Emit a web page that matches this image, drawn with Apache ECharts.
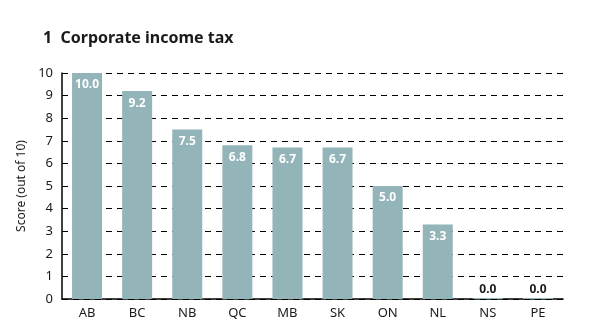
<!DOCTYPE html>
<html>
<head>
<meta charset="utf-8">
<script src="https://cdn.jsdelivr.net/npm/echarts@6/dist/echarts.min.js"></script>
<style>
html, body { margin: 0; padding: 0; background: #fff; }
#chart { width: 592px; height: 324px; }
</style>
</head>
<body>
<div id="chart"></div>
<script>
var provinces = ['AB', 'BC', 'NB', 'QC', 'MB', 'SK', 'ON', 'NL', 'NS', 'PE'];
var scores = [10.0, 9.2, 7.5, 6.8, 6.7, 6.7, 5.0, 3.3, 0.0, 0.0];
var yTicks = [0, 1, 2, 3, 4, 5, 6, 7, 8, 9, 10];

var barColor = '#93b4b8';
var font = '"Noto Sans", "Open Sans", sans-serif';

// zero bars get their label above the bar in dark text
var barData = scores.map(function (v) {
    if (v === 0) {
        return {
            value: v,
            label: { position: 'top', distance: 2, color: '#1a1a1a' }
        };
    }
    return v;
});

var chart = echarts.init(document.getElementById('chart'));
chart.setOption({
    animation: false,
    title: {
        text: '1  Corporate income tax',
        left: 38,
        top: 25,
        textStyle: { fontFamily: font, fontSize: 16, fontWeight: 'bold', color: '#1a1a1a' }
    },
    grid: {
        left: 62,
        right: 29,
        top: 73,
        bottom: 25
    },
    xAxis: {
        type: 'category',
        data: provinces,
        axisTick: { show: false },
        axisLine: { lineStyle: { color: '#000', width: 1.5 } },
        axisLabel: { color: '#1a1a1a', fontFamily: font, fontSize: 13, margin: 8 }
    },
    yAxis: {
        type: 'value',
        min: 0,
        max: 10,
        interval: 1,
        name: 'Score (out of 10)',
        nameLocation: 'middle',
        nameGap: 27,
        nameTextStyle: { color: '#1a1a1a', fontFamily: font, fontSize: 12 },
        axisLine: { show: true, lineStyle: { color: '#000', width: 1.5 } },
        axisTick: { show: false },
        axisLabel: {
            color: '#1a1a1a', fontFamily: font, fontSize: 13, margin: 9,
            formatter: function (v) { return yTicks.indexOf(v) >= 0 ? String(v) : ''; }
        },
        splitLine: { show: true, lineStyle: { color: '#000', type: [6, 5], width: 1 } }
    },
    series: [{
        type: 'bar',
        data: barData,
        barWidth: 30,
        barMinHeight: 1,
        itemStyle: { color: barColor },
        z: 3,
        label: {
            show: true,
            position: 'insideTop',
            distance: 6,
            color: '#fff',
            fontFamily: font,
            fontSize: 12,
            fontWeight: 'bold',
            formatter: function (p) { return p.value.toFixed(1); }
        }
    }]
});
</script>
</body>
</html>
